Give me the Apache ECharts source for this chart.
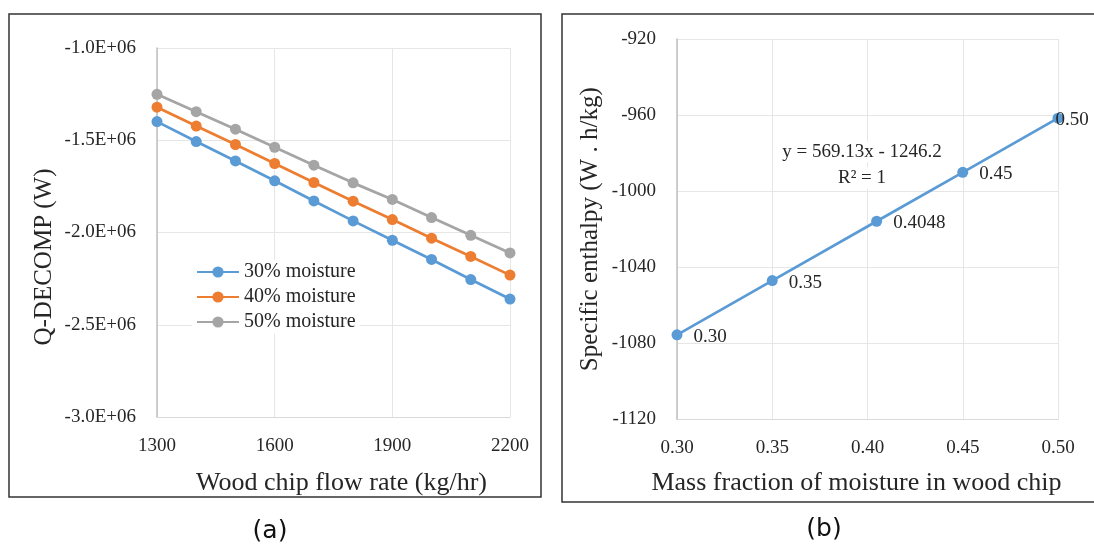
<!DOCTYPE html>
<html>
<head>
<meta charset="utf-8">
<script src="https://cdn.jsdelivr.net/npm/echarts@6/dist/echarts.min.js"></script>
<style>
html,body{margin:0;padding:0;background:#fff;}
#chart{width:1094px;height:547px;}
</style>
</head>
<body>
<div id="chart"></div>
<script>
// ---- Data: panel (a)
const flowRates = [1300, 1400, 1500, 1600, 1700, 1800, 1900, 2000, 2100, 2200];
const q30 = [-1.399e6, -1.507e6, -1.612e6, -1.720e6, -1.829e6, -1.937e6, -2.042e6, -2.146e6, -2.255e6, -2.361e6];
const q40 = [-1.321e6, -1.423e6, -1.523e6, -1.626e6, -1.729e6, -1.830e6, -1.930e6, -2.031e6, -2.130e6, -2.231e6];
const q50 = [-1.251e6, -1.345e6, -1.440e6, -1.538e6, -1.635e6, -1.731e6, -1.821e6, -1.919e6, -2.015e6, -2.111e6];
const seriesNames = ['30% moisture', '40% moisture', '50% moisture'];

// ---- Data: panel (b)
const moistureFrac = [0.30, 0.35, 0.4048, 0.45, 0.50];
const moistureLabels = ['0.30', '0.35', '0.4048', '0.45', '0.50'];
const enthalpy = [-1075.5, -1047.0, -1015.8, -990.1, -961.6];
const trendText = ['y = 569.13x - 1246.2', 'R\u00b2 = 1'];

// ---- Axis texts
const titleA_x = 'Wood chip flow rate (kg/hr)';
const titleA_y = 'Q-DECOMP (W)';
const titleB_x = 'Mass fraction of moisture in wood chip';
const titleB_y = 'Specific enthalpy (W . h/kg)';
const captions = ['(a)', '(b)'];

const SERIF = '"Liberation Serif", "DejaVu Serif", serif';
const SANS = '"DejaVu Sans", "Noto Sans", sans-serif';
const TXT = '#262626';
const colors = ['#5b9bd5', '#ed7d31', '#a5a5a5'];

const chart = echarts.init(document.getElementById('chart'));

function pairs(xs, ys) { return xs.map((x, i) => [x, ys[i]]); }

const bLabelOffsets = [[6, 2], [6, 2], [6, 2], [6, 2], [-13, 2]];

const option = {
  animation: false,
  backgroundColor: '#fff',
  textStyle: { fontFamily: SERIF },
  grid: [
    { left: 157, top: 48, width: 353, height: 369 },
    { left: 677, top: 39, width: 381, height: 380.5 }
  ],
  xAxis: [
    {
      gridIndex: 0, type: 'value', min: 1300, max: 2200, interval: 300,
      name: titleA_x, nameLocation: 'middle', nameGap: 53,
      nameTextStyle: { fontFamily: SERIF, fontSize: 26, color: TXT, padding: [0, 0, 0, 16] },
      axisLine: { show: true, onZero: false, lineStyle: { color: '#d9d9d9', width: 1 } },
      axisTick: { show: false },
      axisLabel: { fontFamily: SERIF, fontSize: 19, color: TXT, margin: 20, formatter: v => String(v) },
      splitLine: { show: true, lineStyle: { color: '#e6e6e6', width: 1 } }
    },
    {
      gridIndex: 1, type: 'value', min: 0.30, max: 0.50, interval: 0.05,
      name: titleB_x, nameLocation: 'middle', nameGap: 51,
      nameTextStyle: { fontFamily: SERIF, fontSize: 26, color: TXT, padding: [0, 22, 0, 0] },
      axisLine: { show: true, onZero: false, lineStyle: { color: '#d9d9d9', width: 1 } },
      axisTick: { show: false },
      axisLabel: { fontFamily: SERIF, fontSize: 19, color: TXT, margin: 19,
        formatter: v => v.toFixed(2) },
      splitLine: { show: true, lineStyle: { color: '#e6e6e6', width: 1 } }
    }
  ],
  yAxis: [
    {
      gridIndex: 0, type: 'value', min: -3.0e6, max: -1.0e6, interval: 5e5,
      name: titleA_y, nameLocation: 'middle', nameGap: 100,
      nameTextStyle: { fontFamily: SERIF, fontSize: 25, color: TXT, padding: [0, 49, 0, 0] },
      axisLine: { show: true, onZero: false, lineStyle: { color: '#bfbfbf', width: 1.5 } },
      axisTick: { show: false },
      axisLabel: { fontFamily: SERIF, fontSize: 19, color: TXT, margin: 21,
        formatter: v => (v / 1e6).toFixed(1) + 'E+06' },
      splitLine: { show: true, lineStyle: { color: '#e6e6e6', width: 1 } }
    },
    {
      gridIndex: 1, type: 'value', min: -1120, max: -920, interval: 40,
      name: titleB_y, nameLocation: 'middle', nameGap: 74,
      nameTextStyle: { fontFamily: SERIF, fontSize: 25, color: TXT },
      axisLine: { show: true, onZero: false, lineStyle: { color: '#bfbfbf', width: 1.5 } },
      axisTick: { show: false },
      axisLabel: { fontFamily: SERIF, fontSize: 19, color: TXT, margin: 21, formatter: v => String(v) },
      splitLine: { show: true, lineStyle: { color: '#e6e6e6', width: 1 } }
    }
  ],
  legend: {
    left: 192, top: 260, orient: 'vertical',
    backgroundColor: '#fff', padding: [2, 4, 2, 4],
    itemWidth: 42, itemHeight: 14, itemGap: 5,
    data: seriesNames,
    textStyle: { fontFamily: SERIF, fontSize: 20, color: TXT }
  },
  series: [
    ...[q30, q40, q50].map((arr, i) => ({
      name: seriesNames[i], type: 'line', xAxisIndex: 0, yAxisIndex: 0,
      data: pairs(flowRates, arr),
      symbol: 'circle', symbolSize: 11,
      lineStyle: { color: colors[i], width: 2.75 },
      itemStyle: { color: colors[i] }
    })),
    {
      name: 'enthalpy', type: 'line', xAxisIndex: 1, yAxisIndex: 1,
      data: moistureFrac.map((x, i) => ({
        value: [x, enthalpy[i]],
        label: { offset: bLabelOffsets[i] }
      })),
      symbol: 'circle', symbolSize: 11,
      lineStyle: { color: colors[0], width: 2.75 },
      itemStyle: { color: colors[0] },
      label: {
        show: true, position: 'right',
        fontFamily: SERIF, fontSize: 19, color: TXT,
        formatter: p => moistureLabels[p.dataIndex]
      }
    }
  ],
  graphic: [
    { type: 'rect', shape: { x: 9, y: 14, width: 532, height: 483 },
      style: { fill: 'none', stroke: '#333', lineWidth: 1.5 }, silent: true },
    { type: 'rect', shape: { x: 562, y: 14, width: 545, height: 488 },
      style: { fill: 'none', stroke: '#333', lineWidth: 1.5 }, silent: true },
    { type: 'text', x: 862, y: 152, z: 1, style: { text: trendText[0], fontFamily: SERIF, fontSize: 19, fill: TXT, textAlign: 'center', textVerticalAlign: 'middle', backgroundColor: '#fff', padding: [1, 2] } },
    { type: 'text', x: 862, y: 178, z: 1, style: { text: trendText[1], fontFamily: SERIF, fontSize: 19, fill: TXT, textAlign: 'center', textVerticalAlign: 'middle', backgroundColor: '#fff', padding: [1, 2] } },
    { type: 'text', x: 270, y: 531, style: { text: captions[0], fontFamily: SANS, fontSize: 25, fill: '#111', textAlign: 'center', textVerticalAlign: 'middle' } },
    { type: 'text', x: 824, y: 529, style: { text: captions[1], fontFamily: SANS, fontSize: 25, fill: '#111', textAlign: 'center', textVerticalAlign: 'middle' } }
  ]
};
chart.setOption(option);
</script>
</body>
</html>
